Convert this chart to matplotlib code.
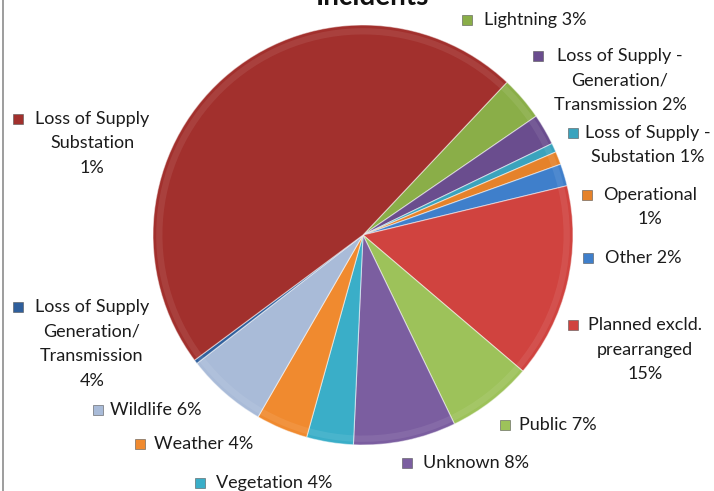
import matplotlib
matplotlib.use("Agg")
import matplotlib.pyplot as plt
from matplotlib.patches import Rectangle
from matplotlib.lines import Line2D

# Incident causes, clockwise from the Lightning slice
causes = [
    "Lightning", "LoS Gen/Trans (a)", "LoS Substation (a)", "Operational", "Other",
    "Planned excld. prearranged", "Public", "Unknown", "Vegetation", "Weather",
    "Wildlife", "LoS Gen/Trans (b)", "LoS Substation (b)",
]
shares = [3.4, 2.4, 0.7, 1.0, 1.7, 15.0, 6.6, 7.9, 3.6, 4.0, 6.2, 0.3, 47.2]
label_texts = [
    "Lightning 3%",
    "Loss of Supply -\nGeneration/\nTransmission 2%",
    "Loss of Supply -\nSubstation 1%",
    "Operational\n1%",
    "Other 2%",
    "Planned excld.\nprearranged\n15%",
    "Public 7%",
    "Unknown 8%",
    "Vegetation 4%",
    "Weather 4%",
    "Wildlife 6%",
    "Loss of Supply\nGeneration/\nTransmission\n4%",
    "Loss of Supply\nSubstation\n1%",
]
colors = [
    "#8aae48", "#6a4d8e", "#3aa3bd", "#e5822a", "#3f7fcb",
    "#d0433f", "#9dc25a", "#7b5ea0", "#3aaec8", "#f08a2f",
    "#a9bbd8", "#2f5f9c", "#a2302d",
]

W, H = 714, 491
fig = plt.figure(figsize=(W / 100, H / 100), dpi=100)
fig.patch.set_facecolor("white")

# pie axes: centre (363, 235) px, radius 210 px
cx, cy, r = 363, 235, 210
ax = fig.add_axes([(cx - r) / W, (H - cy - r) / H, 2 * r / W, 2 * r / H])
wedges, _ = ax.pie(
    shares, colors=colors, startangle=46.7, counterclock=False, radius=1.0,
    wedgeprops={"linewidth": 0.8, "edgecolor": (1, 1, 1, 0.5)},
)
# faint rim shading for the bevelled look
ax.pie(
    shares, colors=["none"] * len(shares), startangle=46.7, counterclock=False,
    radius=0.985, wedgeprops={"width": 0.03, "linewidth": 0, "facecolor": (1, 1, 1, 0.08)},
)
ax.set_xlim(-1, 1)
ax.set_ylim(-1, 1)
ax.set_aspect("auto")
ax.axis("off")

# title sits partly above the top edge
fig.text(372 / W, 1 - 5 / H, "Incidents", ha="center", va="baseline",
         fontsize=20, fontweight="bold", family="Lato", color="#111111")

# label layout: marker x, first line y, block centre x (pixels)
label_layout = [
    (467, 20, 535),
    (538, 56, 620),
    (573, 133, 648),
    (587, 195, 650),
    (588, 258, 643),
    (573, 325, 645),
    (505, 425, 558),
    (407, 463, 476),
    (200, 483, 274),
    (140, 444, 204),
    (98, 410, 156),
    (18, 307, 92),
    (18, 119, 92),
]
line_gap = 24.5
sq = 10

for text, color, (mx, my, tx) in zip(label_texts, colors, label_layout):
    for i, line in enumerate(text.split("\n")):
        fig.text(tx / W, 1 - (my + i * line_gap) / H, line, ha="center", va="center",
                 fontsize=13, family="Lato", color="#1c1c1c")
    fig.patches.append(Rectangle(
        ((mx - sq / 2) / W, 1 - (my + sq / 2) / H), sq / W, sq / H,
        transform=fig.transFigure, facecolor=color, edgecolor="#555555",
        linewidth=0.4, figure=fig,
    ))

# left frame edge
fig.add_artist(Line2D([2.5 / W, 2.5 / W], [0, 1], transform=fig.transFigure,
                      color="#8c8c8c", linewidth=1.2))

fig.savefig("out.png", dpi=100, facecolor="white")
